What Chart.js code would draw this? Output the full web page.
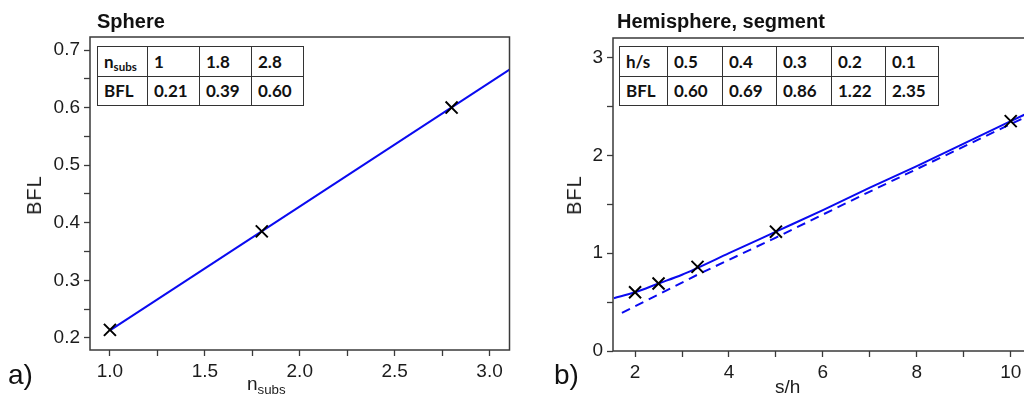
<!DOCTYPE html>
<html>
<head>
<meta charset="utf-8">
<script src="https://cdn.jsdelivr.net/npm/chart.js@4.4.1/dist/chart.umd.min.js"></script>
<style>
  html, body { margin: 0; padding: 0; background: #fff; overflow: hidden; width: 1024px; height: 397px; }
  body { position: relative; font-family: "Liberation Sans", Arial, sans-serif; color: #1c1c1c; }
  .box { position: absolute; top: 0; height: 397px; }
  .ttl { position: absolute; font-weight: bold; font-size: 20px; line-height: 20px; white-space: nowrap; color: #111; }
  .lbl { position: absolute; font-size: 19px; line-height: 19px; white-space: nowrap; color: #1c1c1c; }
  .panel { position: absolute; font-size: 28px; line-height: 28px; color: #111; }
  .ytitle { position: absolute; font-size: 20px; line-height: 20px; letter-spacing: 1px; transform: translate(-50%, -50%) rotate(-90deg); white-space: nowrap; color: #1c1c1c; }
  table.t { position: absolute; border-collapse: collapse; font-family: Lato, "Open Sans", sans-serif; font-weight: bold; font-size: 17px; color: #111; background: #fff; }
  table.t td { border: 1px solid #333; padding: 0 0 0 6px; height: 29.5px; box-sizing: border-box; text-align: left; vertical-align: middle; line-height: 17px; }
  sub { font-size: 0.7em; vertical-align: -0.3em; line-height: 0; }
</style>
</head>
<body>
<div class="box" id="b1" style="left:0;width:520px;"><canvas id="c1" width="520" height="397"></canvas></div>
<div class="box" id="b2" style="left:520px;width:520px;"><canvas id="c2" width="520" height="397"></canvas></div>

<div class="ttl" style="left:97px;top:11px;">Sphere</div>
<div class="ttl" style="left:617px;top:11px;">Hemisphere, segment</div>
<div class="ytitle" style="left:34px;top:195px;">BFL</div>
<div class="ytitle" style="left:574px;top:195px;">BFL</div>
<div class="lbl" style="left:247px;top:374px;">n<sub>subs</sub></div>
<div class="lbl" style="left:775px;top:377px;">s/h</div>
<div class="panel" style="left:8px;top:361px;">a)</div>
<div class="panel" style="left:554px;top:361px;">b)</div>

<table class="t" id="t1" style="left:97px;top:46px;"></table>
<table class="t" id="t2" style="left:619px;top:46px;"></table>

<script>
// ---- data: Sphere ----
const sphereN = [1.0, 1.8, 2.8];
const sphereBFL = [0.214, 0.385, 0.600];
const sphereFitN = [1.0, 3.105];
const sphereFitBFL = [0.213, 0.666];
const sphereXMajor = [1.0, 1.5, 2.0, 2.5, 3.0];
const sphereXMinor = [1.25, 1.75, 2.25, 2.75];
const sphereYMajor = [0.2, 0.3, 0.4, 0.5, 0.6, 0.7];
const sphereYMinor = [0.25, 0.35, 0.45, 0.55, 0.65];
const sphereTableHead = ['1', '1.8', '2.8'];
const sphereTableBFL = ['0.21', '0.39', '0.60'];

// ---- data: Hemisphere, segment ----
const hemiSH = [2, 2.5, 3.33, 5, 10];
const hemiBFL = [0.60, 0.69, 0.86, 1.22, 2.35];
const hemiFitSH = [1.55, 2, 2.5, 3, 3.33, 4, 5, 6, 7, 8, 9, 10, 10.4];
const hemiFitBFL = [0.54, 0.60, 0.69, 0.78, 0.85, 1.0, 1.22, 1.44, 1.67, 1.89, 2.12, 2.35, 2.44];
const hemiApproxSH = [1.72, 3.33, 5, 7, 10, 10.4];
const hemiApproxBFL = [0.39, 0.78, 1.16, 1.63, 2.32, 2.41];
const hemiXMajor = [2, 4, 6, 8, 10];
const hemiXMinor = [3, 5, 7, 9];
const hemiYMajor = [0, 1, 2, 3];
const hemiYMinor = [0.5, 1.5, 2.5];
const hemiTableHead = ['0.5', '0.4', '0.3', '0.2', '0.1'];
const hemiTableBFL = ['0.60', '0.69', '0.86', '1.22', '2.35'];

// ---- tables ----
function buildTable(id, headLabel, head, bfl, widths) {
  const t = document.getElementById(id);
  const r1 = document.createElement('tr');
  const r2 = document.createElement('tr');
  const c0 = document.createElement('td'); c0.innerHTML = headLabel; c0.style.width = widths[0] + 'px'; r1.appendChild(c0);
  const d0 = document.createElement('td'); d0.textContent = 'BFL'; r2.appendChild(d0);
  head.forEach((h, i) => { const c = document.createElement('td'); c.textContent = h; c.style.width = widths[i + 1] + 'px'; r1.appendChild(c); });
  bfl.forEach(b => { const c = document.createElement('td'); c.textContent = b; r2.appendChild(c); });
  t.appendChild(r1); t.appendChild(r2);
}
buildTable('t1', 'n<sub style="font-size:0.68em">subs</sub>', sphereTableHead, sphereTableBFL, [50, 52, 52, 52]);
buildTable('t2', 'h/s', hemiTableHead, hemiTableBFL, [48, 55, 54, 55, 54, 53]);

// ---- chart helpers ----
const AX = '#3a3a3a';
const framePlugin = {
  id: 'frame',
  afterDraw(chart) {
    const a = chart.chartArea, ctx = chart.ctx;
    ctx.save();
    ctx.strokeStyle = AX; ctx.lineWidth = 1.5;
    ctx.strokeRect(a.left, a.top, a.right - a.left, a.bottom - a.top);
    ctx.restore();
  }
};

function axis(min, max, major, minor, fmt, fitKey, fitVal) {
  const all = major.concat(minor).sort((p, q) => p - q);
  return {
    type: 'linear', min, max,
    border: { display: false },
    grid: { drawOnChartArea: false, drawTicks: true, tickLength: 6, color: AX, tickColor: AX, tickWidth: 1.3 },
    afterBuildTicks(scale) { scale.ticks = all.map(v => ({ value: v })); },
    afterFit(scale) { scale[fitKey] = fitVal; },
    ticks: {
      autoSkip: false, maxRotation: 0, padding: 4, color: '#1c1c1c',
      font: { family: '"Liberation Sans", Arial, sans-serif', size: 19 },
      callback(v) { return major.some(m => Math.abs(m - v) < 1e-9) ? fmt(v) : ''; }
    }
  };
}

function pts(xs, ys) { return xs.map((x, i) => ({ x, y: ys[i] })); }

Chart.defaults.animation = false;

new Chart(document.getElementById('c1'), {
  type: 'scatter',
  data: {
    datasets: [
      { data: pts(sphereFitN, sphereFitBFL), showLine: true, borderColor: '#0a0af0', borderWidth: 2, pointRadius: 0, order: 2 },
      { data: pts(sphereN, sphereBFL), showLine: false, pointStyle: 'crossRot', pointRadius: 8.5, borderColor: '#000', borderWidth: 2, order: 1 }
    ]
  },
  options: {
    responsive: false, maintainAspectRatio: false,
    layout: { padding: { top: 37, right: 10, left: 0, bottom: 0 } },
    plugins: { legend: { display: false }, tooltip: { enabled: false } },
    scales: {
      x: axis(0.895, 3.105, sphereXMajor, sphereXMinor, v => v.toFixed(1), 'height', 47),
      y: axis(0.179, 0.7226, sphereYMajor, sphereYMinor, v => v.toFixed(1), 'width', 90)
    }
  },
  plugins: [framePlugin]
});

new Chart(document.getElementById('c2'), {
  type: 'scatter',
  data: {
    datasets: [
      { data: pts(hemiApproxSH, hemiApproxBFL), showLine: true, borderColor: '#0a0af0', borderWidth: 2, borderDash: [9, 6], pointRadius: 0, order: 3 },
      { data: pts(hemiFitSH, hemiFitBFL), showLine: true, borderColor: '#0a0af0', borderWidth: 2, pointRadius: 0, cubicInterpolationMode: 'monotone', order: 2 },
      { data: pts(hemiSH, hemiBFL), showLine: false, pointStyle: 'crossRot', pointRadius: 8.5, borderColor: '#000', borderWidth: 2, order: 1 }
    ]
  },
  options: {
    responsive: false, maintainAspectRatio: false,
    layout: { padding: { top: 38, right: 10, left: 0, bottom: 0 } },
    plugins: { legend: { display: false }, tooltip: { enabled: false } },
    scales: {
      x: axis(1.53, 10.4, hemiXMajor, hemiXMinor, v => String(v), 'height', 46),
      y: axis(0, 3.2, hemiYMajor, hemiYMinor, v => String(v), 'width', 93)
    }
  },
  plugins: [framePlugin]
});
</script>
</body>
</html>
